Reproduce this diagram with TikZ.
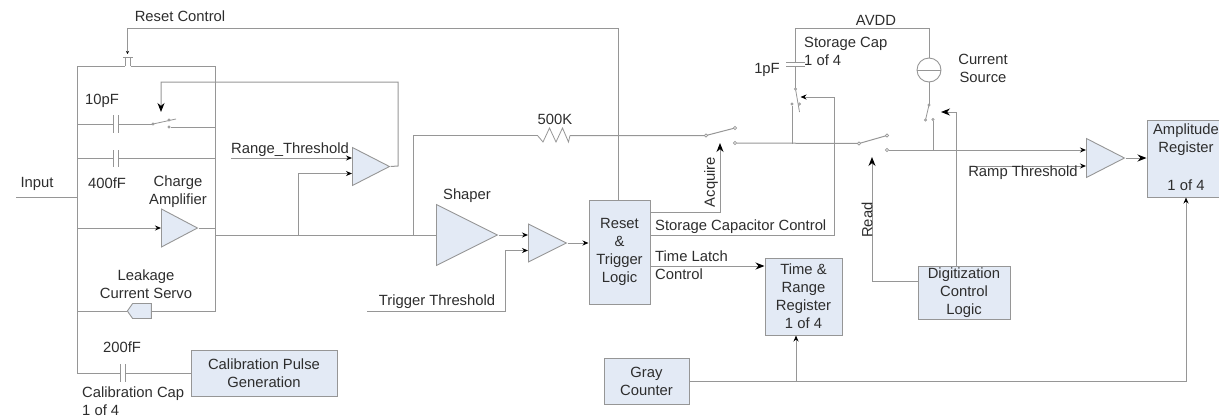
\documentclass[tikz,border=0pt]{standalone}
\usepackage{fontspec}
\setmainfont{Liberation Sans}
\usetikzlibrary{arrows.meta,shapes.geometric,shapes.symbols,calc}
\definecolor{wire}{RGB}{150,150,150}
\definecolor{blockfill}{RGB}{227,234,245}
\definecolor{ink}{RGB}{45,45,45}
\tikzset{
  wireline/.style={draw=wire,line width=1pt,line join=miter},
  thin wire/.style={draw=wire,line width=0.8pt},
  arr/.style={wireline,-{Stealth[length=6pt,width=5pt,color=black]}},
  bigarr/.style={wireline,-{Stealth[length=9pt,width=7pt,color=black]}},
  block/.style={rectangle,draw=wire,line width=1pt,fill=blockfill,inner sep=0pt,align=center,text=ink,
    font=\fontsize{14.8}{18}\selectfont},
  amp/.style={isosceles triangle,isosceles triangle stretches,shape border rotate=0,draw=wire,line width=0.9pt,
    fill=blockfill,inner sep=0pt,anchor=lower side},
  lbl/.style={inner sep=0pt,align=center,text=ink,font=\fontsize{14.8}{18}\selectfont},
  lbll/.style={lbl,align=left,anchor=west},
  contact/.style={circle,draw=wire,fill=white,line width=0.7pt,inner sep=0pt,minimum size=3.4pt},
}
\begin{document}
\begin{tikzpicture}[x=1pt,y=-1pt]
\useasboundingbox (0,0) rectangle (1219,416);

% --- blocks ---
\node[block,minimum width=61pt,minimum height=104pt] (reset) at (619.5,252) {Reset\\\&\\Trigger\\Logic};
\node[block,minimum width=77pt,minimum height=77pt] (timereg) at (803.5,296.5) {Time \&\\Range\\Register\\1 of 4};
\node[block,minimum width=85pt,minimum height=46pt] (gray) at (646.5,381) {Gray\\Counter};
\node[block,minimum width=92pt,minimum height=53pt] (digit) at (964,292.5) {Digitization\\Control\\Logic};
\node[block,minimum width=146pt,minimum height=46pt] (calib) at (264,373) {Calibration Pulse\\Generation};
\node[block,minimum width=73pt,minimum height=77pt] (ampreg) at (1183.5,158.5) {};
\node[lbl] (amptext) at (1186,140) {Amplitude\\Register};
\node[lbl] (ampof) at (1186,185) {1 of 4};

% --- amplifiers ---
\node[amp,minimum width=38pt,minimum height=36pt] (chargeamp) at (161,228) {};
\node[amp,minimum width=38pt,minimum height=37pt] (rangecmp) at (352,166.5) {};
\node[amp,minimum width=61pt,minimum height=61pt] (shaper) at (436,235) {};
\node[amp,minimum width=38pt,minimum height=38pt] (trigcmp) at (528,243) {};
\node[amp,minimum width=39pt,minimum height=38pt] (rampcmp) at (1086,158) {};
\node[signal,signal to=west,signal pointer angle=110,draw=wire,line width=0.9pt,fill=blockfill,
      inner sep=0pt,minimum width=24pt,minimum height=15pt] (servo) at (142,311) {};
\node[circle,draw=wire,line width=0.9pt,minimum size=24pt,inner sep=0pt] (isrc) at (929,70) {};
\draw[wireline] (isrc.west) -- (isrc.east);

% --- junctions ---
\coordinate (ftl) at (77,66);
\coordinate (ftr) at (215,66);
\coordinate (fbr) at (215,311);
\coordinate (fbl) at (77,373);
\coordinate (gateL) at (125,66);
\coordinate (gateR) at (130.5,66);
\coordinate (gate) at (127.5,54);
\coordinate (inL) at (16,197);
\coordinate (inR) at (77,197);
\coordinate (outTap) at (215,235);
\coordinate (rangeTap) at (298,235);
\coordinate (rcIn) at (618.7,28);
\coordinate (shapeTap) at (413,235);
\coordinate (resL) at (536,135.5);
\coordinate (resR) at (570,135.5);

% --- frame ---
\draw[wireline] (gateL) -- (ftl) -- (fbl) -- (120,373);
\draw[wireline] (125,373) -- (calib.west |- fbl);
\draw[wireline] (gateR) -- (ftr) -- (fbr) -- (servo.east);
\draw[wireline] (servo.west) -- (77,311);
\draw[wireline] (inL) -- (inR);

% --- reset transistor and control ---
\draw[thin wire] (123,57) -- (133,57) (gateL) -- (125,57) (gateR) -- (130.5,57);
\draw[wireline,-{Stealth[length=3pt,width=3pt,color=black]}] (reset.north -| rcIn) -- (rcIn) -- (127.5,28) -- (gate);

% --- feedback caps ---
\coordinate (sw1p) at (153,124);
\coordinate (sw1a) at (169,120);
\coordinate (sw1b) at (169,127);
\draw[wireline] (77,124) -- (113,124) (118.5,124) -- (sw1p);
\draw[wireline] (113,115) -- (113,133) (118.5,115) -- (118.5,133);
\draw[thin wire] (sw1p) -- (176,119);
\node[contact,minimum size=2.4pt] (sw1pc) at (sw1p) {};
\node[contact,minimum size=2.4pt] (sw1ac) at (sw1a) {};
\node[contact,minimum size=2.4pt] (sw1bc) at (sw1b) {};
\draw[wireline] (sw1bc) -- (215,127);
\draw[wireline] (77,158.5) -- (113,158.5) (118.5,158.5) -- (215,158.5);
\draw[wireline] (113,150) -- (113,167) (118.5,150) -- (118.5,167);

% --- charge amp ---
\draw[arr] (77,228) -- (chargeamp.lower side);
\draw[wireline] (chargeamp.apex) -- (215,228);
\draw[wireline] (outTap) -- (shaper.lower side);

% --- range comparator ---
\coordinate (rtIn) at (231,158);
\draw[arr] (rtIn) -- (352,158);
\draw[arr] (rangeTap) -- (298,173.5) -- (352,173.5);
\draw[bigarr] (rangecmp.apex) -- (398,166) -- (398,82) -- (161,82) -- (161,112);

% --- 500K branch and acquire switch ---
\draw[wireline] (shapeTap) -- (413,135.5) -- (resL);
\draw[thin wire] (resL) -- (537.5,135.5) -- (543,142) -- (549.5,128) -- (556,142) -- (562.5,128) -- (568.5,142) -- (resR);
\coordinate (sw2p) at (706,135.5);
\coordinate (sw2a) at (735,128);
\coordinate (sw2b) at (735,143);
\draw[wireline] (resR) -- (sw2p) -- (sw2a);
\node[contact] (sw2pc) at (sw2p) {};
\node[contact] (sw2ac) at (sw2a) {};
\node[contact] (sw2bc) at (sw2b) {};
\draw[bigarr] (reset.east |- 0,212) -- (720,212) -- (720,143);

% --- shaper / trigger ---
\draw[arr] (shaper.apex) -- (528,235);
\coordinate (ttIn) at (367,311);
\draw[arr] (ttIn) -- (505,311) -- (505,250.5) -- (528,250.5);
\draw[arr] (trigcmp.apex) -- (reset.west |- trigcmp.apex);

% --- storage cap ---
\coordinate (sw3p) at (859,143.5);
\coordinate (sw3a) at (887,135.5);
\coordinate (sw3b) at (887,150);
\draw[wireline] (sw2bc) -- (sw3p) -- (sw3a);
\node[contact] (sw3pc) at (sw3p) {};
\node[contact] (sw3ac) at (sw3a) {};
\node[contact] (sw3bc) at (sw3b) {};
\draw[wireline] (795.5,89) -- (795.5,66) (795.5,62) -- (795.5,28) -- (929,28) -- (isrc.north);
\draw[wireline] (786,62) -- (805,62) (786,66.5) -- (805,66.5);
\coordinate (sw4t) at (795.5,89);
\coordinate (sw4a) at (799.5,104);
\coordinate (sw4c) at (792,104);
\draw[thin wire] (sw4t) -- (799.5,112);
\node[contact,minimum size=2.4pt] (sw4tc) at (sw4t) {};
\node[contact,minimum size=2.4pt] (sw4ac) at (sw4a) {};
\node[contact,minimum size=2.4pt] (sw4cc) at (sw4c) {};
\draw[wireline] (sw4cc) -- (792,143.5);
\draw[arr] (reset.east |- 0,235) -- (834,235) -- (834,97) -- (800.5,97);

% --- current source switch ---
\coordinate (sw5t) at (929,105);
\coordinate (sw5a) at (925.5,120);
\coordinate (sw5c) at (933,119.5);
\draw[wireline] (isrc.south) -- (sw5t);
\draw[thin wire] (sw5t) -- (sw5a);
\node[contact,minimum size=2.4pt] (sw5tc) at (sw5t) {};
\node[contact,minimum size=2.4pt] (sw5ac) at (sw5a) {};
\node[contact,minimum size=2.4pt] (sw5cc) at (sw5c) {};
\draw[wireline] (sw5cc) -- (933,150);
\draw[bigarr] (digit.north -| 956,0) -- (956,112) -- (941,112);
\draw[bigarr] (digit.west |- 0,281) -- (872,281) -- (872,157);

% --- ramp comparator ---
\draw[arr] (sw3bc) -- (1086,150);
\coordinate (rampIn) at (970,166);
\draw[arr] (rampIn) -- (1086,166);
\draw[bigarr] (rampcmp.apex) -- (ampreg.west |- rampcmp.apex);

% --- time latch, gray counter ---
\draw[bigarr] (reset.east |- 0,266) -- (timereg.west |- 0,266);
\draw[arr] (gray.east) -- (1186,381) -- (ampreg.south -| 1186,0);
\draw[arr] (796,381) -- (timereg.south -| 796,0);

% --- calibration cap ---
\draw[wireline] (120,364) -- (120,382) (125,364) -- (125,382);

% --- labels ---
\node[lbl] (tReset) at (180,16) {Reset Control};
\node[lbl] (tInput) at (37,184) {Input};
\node[lbl] (t10p) at (102,101) {10pF};
\node[lbl] (t400) at (107,183) {400fF};
\node[lbl] (tCharge) at (178,192) {Charge\\Amplifier};
\node[lbl] (tRange) at (290,150) {Range\_Threshold};
\node[lbl] (tLeak) at (146,284.5) {Leakage\\Current Servo};
\node[lbl] (t200) at (122,347) {200fF};
\node[lbll] (tCal) at (82,401) {Calibration Cap\\1 of 4};
\node[lbl] (t500) at (555,119) {500K};
\node[lbl] (tShaper) at (467,196) {Shaper};
\node[lbl] (tTrig) at (437,302) {Trigger Threshold};
\node[lbl,rotate=90] (tAcq) at (711,182) {Acquire};
\node[lbl,rotate=90] (tRead) at (867,220) {Read};
\node[lbll] (tStore) at (655,227) {Storage Capacitor Control};
\node[lbll] (tLatch) at (655,265) {Time Latch\\Control};
\node[lbl] (tAvdd) at (876,20) {AVDD};
\node[lbll] (tCap) at (804,51) {Storage Cap\\1 of 4};
\node[lbl] (t1p) at (767,70) {1pF};
\node[lbl] (tCur) at (983,68) {Current\\Source};
\node[lbl] (tRamp) at (1023,173) {Ramp Threshold};
\end{tikzpicture}
\end{document}
